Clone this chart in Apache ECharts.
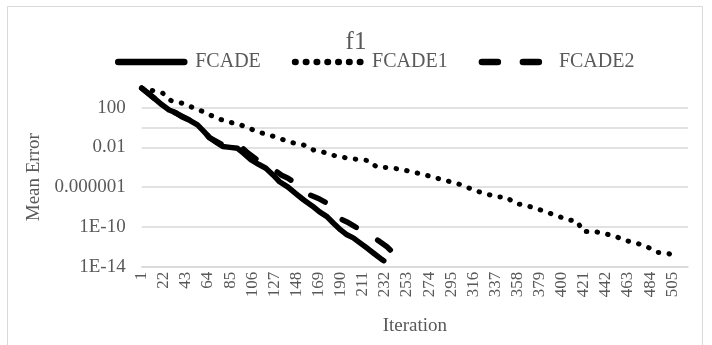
<!DOCTYPE html>
<html><head><meta charset="utf-8">
<script src="https://cdn.jsdelivr.net/npm/echarts@6/dist/echarts.min.js"></script>
<style>html,body{margin:0;padding:0;background:#fff}#c{width:712px;height:345px}</style>
</head><body><div id="c"></div>
<script>
const titleText = 'f1';
const seriesNames = ['FCADE', 'FCADE1', 'FCADE2'];
const categoryCount = 520;

const fcadeIter = [1, 10, 20, 27, 33, 39, 47, 54, 60, 66, 72, 78, 85, 92, 98, 105, 112, 119, 126, 132, 140, 148, 155, 163, 170, 177, 183, 190, 196, 202, 209, 216, 222, 229, 231];
const fcadeVals = [8.9e3, 1.6e3, 2.0e2, 5.8e1, 3.2e1, 1.2e1, 5.0, 1.8, 4.0e-1, 8.3e-2, 3.2e-2, 1.2e-2, 1.0e-2, 8.1e-3, 2.5e-3, 5.4e-4, 2.0e-4, 7.9e-5, 1.6e-5, 3.5e-6, 1.0e-6, 2.0e-7, 5.1e-8, 1.3e-8, 3.2e-9, 1.1e-9, 2.5e-10, 5.0e-11, 1.6e-11, 7.9e-12, 2.2e-12, 6.3e-13, 2.0e-13, 5.5e-14, 4.0e-14];

const fcade1Iter = [1, 12, 21, 29, 39, 47, 57, 66, 75, 86, 95, 105, 114, 125, 134, 144, 155, 164, 175, 184, 194, 205, 217, 224, 236, 247, 257, 268, 278, 288, 298, 308, 317, 327, 337, 348, 355, 366, 375, 385, 395, 405, 415, 420, 431, 442, 452, 462, 472, 482, 491, 502, 510];
const fcade1Vals = [8.9e3, 5.0e3, 2.8e3, 5.0e2, 2.8e2, 1.3e2, 5.0e1, 1.8e1, 6.8, 3.1, 1.8, 6.8e-1, 3.0e-1, 1.4e-1, 6.6e-2, 3.0e-2, 1.7e-2, 5.5e-3, 3.0e-3, 1.5e-3, 9.3e-4, 6.3e-4, 4.6e-4, 1.1e-4, 9.1e-5, 6.3e-5, 3.6e-5, 2.0e-5, 1.0e-5, 5.2e-6, 2.8e-6, 1.3e-6, 4.5e-7, 2.4e-7, 1.1e-7, 9.5e-8, 2.5e-8, 1.4e-8, 7.9e-9, 3.2e-9, 1.4e-9, 5.6e-10, 3.5e-10, 3.5e-11, 3.5e-11, 2.0e-11, 1.0e-11, 4.0e-12, 2.2e-12, 8.9e-13, 2.8e-13, 2.0e-13, 6.3e-14];

const fcade2Iter = [1, 25, 55, 65, 80, 87, 95, 101, 110, 118, 126, 134, 140, 147, 154, 161, 170, 177, 183, 188, 196, 204, 211, 218, 226, 234, 240, 247];
const fcade2Vals = [8.9e3, 7.9e1, 2.0, 1.0e-1, 1.4e-2, 2.5e-2, 1.3e-2, 3.2e-3, 6.3e-4, 2.5e-4, 6.3e-5, 1.6e-5, 7.9e-6, 2.5e-6, 6.3e-7, 1.6e-7, 6.3e-8, 2.5e-8, 4.0e-9, 7.9e-10, 3.2e-10, 1.0e-10, 4.0e-11, 1.6e-11, 4.0e-12, 1.0e-12, 2.5e-13, 5.0e-14];

const yMin = 1e-14, yMax = 1e4;
const yLabelValues = [100, 0.01, 0.000001, 1e-10, 1e-14];
const yLabelTexts = ['100', '0.01', '0.000001', '1E-10', '1E-14'];
const yGridValues = [1e-14, 1e-10, 1e-6, 1e-2, 1, 100];
const xName = 'Iteration';
const yName = 'Mean Error';

const categories = Array.from({length: categoryCount}, (_, i) => String(i + 1));
const pairs = (it, vs) => it.map((c, i) => [String(c), vs[i]]);
const exp = v => Math.round(Math.log10(v));

// grid line colours per tick (ticks every factor 100 from yMin to yMax)
const gridColors = [];
for (let e = exp(yMin); e <= exp(yMax); e += 2) {
  gridColors.push(yGridValues.some(g => exp(g) === e) ? '#d9d9d9' : 'rgba(0,0,0,0)');
}

const FONT = 'Liberation Serif';
const GRAY = '#595959';
const chart = echarts.init(document.getElementById('c'), null, {renderer: 'canvas'});
chart.setOption({
  animation: false,
  backgroundColor: '#fff',
  title: {
    text: titleText, left: 'center', top: 25,
    textStyle: {fontFamily: FONT, fontSize: 25, fontWeight: 'normal', color: GRAY}
  },
  legend: {
    data: seriesNames, top: 47, left: 110,
    itemWidth: 66, itemHeight: 14, itemGap: 31,
    itemStyle: {opacity: 0},
    lineStyle: {width: 6.5},
    textStyle: {fontFamily: FONT, fontSize: 20, color: GRAY, padding: [0, 0, 0, 6]}
  },
  graphic: [{
    type: 'rect', shape: {x: 7.5, y: 6.5, width: 695, height: 400},
    style: {fill: 'none', stroke: '#d9d9d9', lineWidth: 1}, silent: true, z: -10
  }],
  grid: {left: 141.7, right: 24, top: 87.7, bottom: 78.3, containLabel: false},
  xAxis: {
    type: 'category', data: categories, boundaryGap: false,
    name: xName, nameLocation: 'middle', nameGap: 50,
    nameTextStyle: {fontFamily: FONT, fontSize: 19, color: GRAY},
    axisLine: {show: true, lineStyle: {color: '#d9d9d9', width: 1.5}},
    axisTick: {show: false},
    axisLabel: {interval: 20, rotate: 90, margin: 5, fontFamily: FONT, fontSize: 17, color: GRAY},
    splitLine: {show: false}
  },
  yAxis: {
    type: 'log', logBase: 100, min: yMin, max: yMax, splitNumber: 9,
    name: yName, nameLocation: 'middle', nameGap: 96,
    nameTextStyle: {fontFamily: FONT, fontSize: 19, color: GRAY},
    axisLine: {show: false}, axisTick: {show: false},
    axisLabel: {
      margin: 16, fontFamily: FONT, fontSize: 19, color: GRAY,
      formatter: v => {
        const i = yLabelValues.findIndex(l => exp(l) === exp(v));
        return i >= 0 ? yLabelTexts[i] : '';
      }
    },
    splitLine: {show: true, lineStyle: {color: gridColors, width: 1.5}}
  },
  series: [
    {
      name: seriesNames[0], type: 'line', data: pairs(fcadeIter, fcadeVals),
      symbol: 'none', lineStyle: {color: '#000', width: 5.5, cap: 'round', join: 'round'},
      itemStyle: {color: '#000'}, z: 3
    },
    {
      name: seriesNames[1], type: 'line', data: pairs(fcade1Iter, fcade1Vals),
      symbol: 'none', lineStyle: {color: '#000', width: 5, type: [0.5, 10.3], cap: 'round', join: 'round'},
      itemStyle: {color: '#000'}, z: 2
    },
    {
      name: seriesNames[2], type: 'line', data: pairs(fcade2Iter, fcade2Vals),
      symbol: 'none', lineStyle: {color: '#000', width: 5.5, type: [16, 25], cap: 'round', join: 'round'},
      itemStyle: {color: '#000'}, z: 2
    }
  ]
});
</script></body></html>
